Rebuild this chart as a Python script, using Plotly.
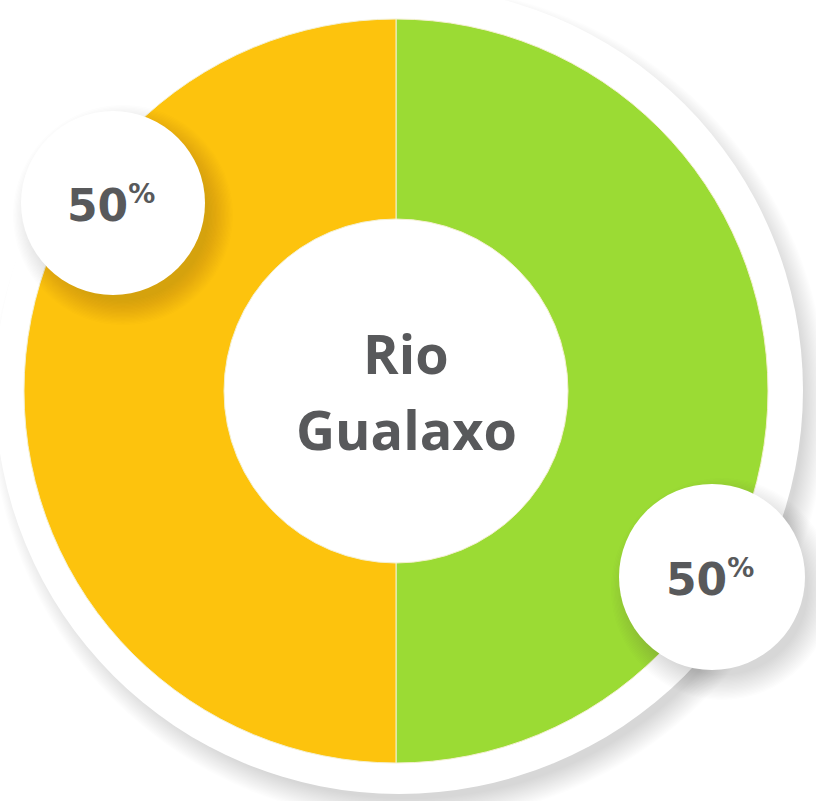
import plotly.graph_objects as go

# Share of each segment
labels = ["Verde", "Amarelo"]
values = [50, 50]
colors = ["#9bdb34", "#fdc30d"]
center_title = ["Rio", "Gualaxo"]
value_labels = [f"{v}<sup><span style='font-size:27px'>%</span></sup>" for v in values]

W, H = 816, 801
CX, CY = 396, 391          # donut centre (px)
R_OUT, R_IN = 372, 172     # donut radii (px)
TEXT = "#58595b"

fig = go.Figure()

# invisible trace so the pixel-space axes exist for the shapes
fig.add_trace(go.Scatter(x=[0, W], y=[0, H], mode="markers",
                         marker=dict(opacity=0), hoverinfo="skip", showlegend=False))

fig.add_trace(go.Pie(
    labels=labels, values=values, sort=False, direction="clockwise", rotation=0,
    hole=R_IN / R_OUT, textinfo="none", hoverinfo="label+percent",
    marker=dict(colors=colors, line=dict(color="#f4f0d0", width=1)),
    domain=dict(x=[(CX - R_OUT) / W, (CX + R_OUT) / W],
                y=[1 - (CY + R_OUT) / H, 1 - (CY - R_OUT) / H]),
    showlegend=False,
))

shapes = []


def circle(cx, cy, r, color, layer, opacity=1.0):
    return dict(type="circle", xref="x", yref="y", x0=cx - r, x1=cx + r,
                y0=cy - r, y1=cy + r, fillcolor=color, opacity=opacity,
                line=dict(width=0), layer=layer)


def soft_shadow(cx, cy, r, dx, dy, spread, color, layer, steps=14, alpha=0.05):
    out = []
    for i in range(steps):
        rr = r + spread * (1 - i / steps)
        out.append(circle(cx + dx, cy + dy, rr, color, layer, alpha))
    return out


# white backing disk with a soft drop shadow
BX, BY, BR = 399, 390, 404
shapes += soft_shadow(BX, BY, BR - 10, 10, 14, 24, "#707070", "below", steps=20, alpha=0.016)
shapes.append(circle(BX, BY, BR, "white", "below"))

# label bubbles with shadows
bubbles = [(712, 577, 93), (113, 203, 92)]
for bx, by, br in bubbles:
    shapes += soft_shadow(bx, by, br - 8, 10, 12, 26, "#505050", "above", steps=20, alpha=0.011)
for bx, by, br in bubbles:
    shapes.append(circle(bx, by, br, "white", "above"))

annotations = []
for (bx, by, br), txt in zip(bubbles, value_labels):
    annotations.append(dict(x=bx - 2, y=by + 1, xref="x", yref="y", text=txt, showarrow=False,
                            font=dict(family="DejaVu Sans", size=44, color=TEXT, weight="bold")))

# centre title, one line per annotation
for i, line in enumerate(center_title):
    annotations.append(dict(x=CX + 10, y=CY - 38 + 76 * i, xref="x", yref="y",
                            text=line, showarrow=False,
                            font=dict(family="Open Sans", size=54, color=TEXT, weight="bold")))

fig.update_layout(
    width=W, height=H, margin=dict(l=0, r=0, t=0, b=0),
    paper_bgcolor="white", plot_bgcolor="white",
    xaxis=dict(range=[0, W], visible=False, fixedrange=True),
    yaxis=dict(range=[H, 0], visible=False, fixedrange=True),
    shapes=shapes, annotations=annotations, showlegend=False,
)

fig.write_html("out.html")
